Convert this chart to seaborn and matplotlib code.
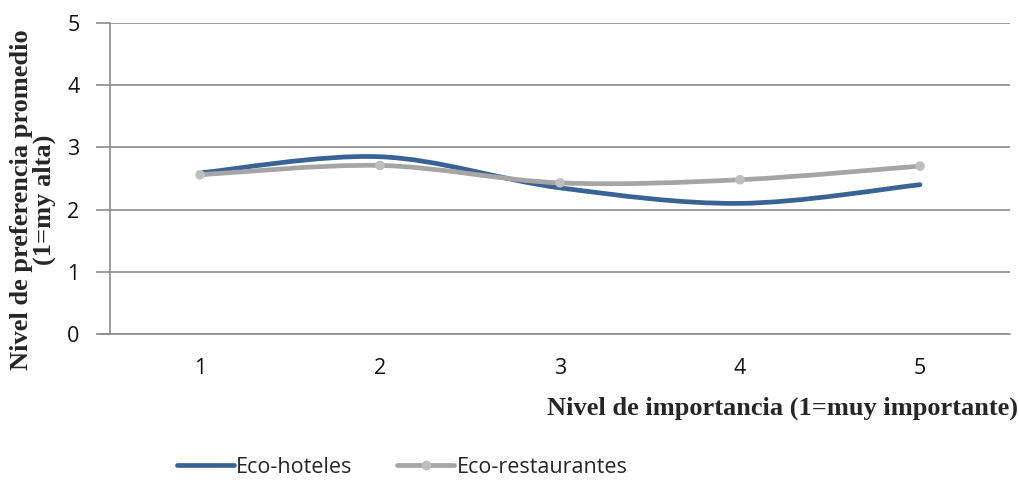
import numpy as np
import pandas as pd
import seaborn as sns
import matplotlib.pyplot as plt
from matplotlib.path import Path
from matplotlib.patches import PathPatch
from matplotlib.lines import Line2D

# data
niveles = [1, 2, 3, 4, 5]
eco_hoteles = [2.59, 2.85, 2.35, 2.10, 2.40]
eco_restaurantes = [2.56, 2.71, 2.43, 2.48, 2.70]

azul = '#386394'
gris = '#A5A5A5'
gris_marker = '#BEBEBE'


def smooth_path(xs, ys, t=1 / 6):
    # Excel-style smoothed line: cubic bezier through each point (Catmull-Rom)
    pts = np.column_stack([xs, ys]).astype(float)
    verts = [pts[0]]
    codes = [Path.MOVETO]
    n = len(pts)
    for i in range(n - 1):
        p0 = pts[i - 1] if i > 0 else pts[i]
        p1 = pts[i]
        p2 = pts[i + 1]
        p3 = pts[i + 2] if i + 2 < n else pts[i + 1]
        c1 = p1 + (p2 - p0) * t
        c2 = p2 - (p3 - p1) * t
        verts += [c1, c2, p2]
        codes += [Path.CURVE4] * 3
    return Path(verts, codes)


df = pd.DataFrame({'nivel': niveles * 2,
                   'valor': eco_hoteles + eco_restaurantes,
                   'serie': ['Eco-hoteles'] * 5 + ['Eco-restaurantes'] * 5})

sns.set_style('white')
plt.rcParams['font.family'] = ['Open Sans', 'DejaVu Sans']

fig = plt.figure(figsize=(10.2, 4.86), dpi=100)
ax = fig.add_axes([110 / 1020, 1 - 334 / 486, 900 / 1020, 311 / 486])

ax.add_patch(PathPatch(smooth_path(niveles, eco_hoteles), facecolor='none',
                       edgecolor=azul, lw=3.4, capstyle='round', zorder=3))
ax.add_patch(PathPatch(smooth_path(niveles, eco_restaurantes), facecolor='none',
                       edgecolor=gris, lw=3.4, capstyle='round', zorder=4))
sns.scatterplot(data=df[df['serie'] == 'Eco-restaurantes'], x='nivel', y='valor',
                color=gris_marker, s=48, edgecolor='none', zorder=5, ax=ax,
                legend=False)

ax.set_xlim(0.5, 5.5)
ax.set_ylim(0, 5)
ax.set_xticks(niveles)
ax.set_yticks([0, 1, 2, 3, 4, 5])
ax.yaxis.grid(True, color='#8C8C8C', lw=1.2)
ax.set_axisbelow(True)
for s in ['top', 'right', 'bottom']:
    ax.spines[s].set_visible(False)
ax.spines['left'].set_color('#8C8C8C')
ax.spines['left'].set_linewidth(1.2)
ax.tick_params(axis='y', length=10, width=1.2, color='#8C8C8C', pad=12,
               labelsize=15.5, labelcolor='#111111', left=True)
ax.tick_params(axis='x', length=0, pad=17, labelsize=15.5, labelcolor='#111111')
ax.set_xlabel('')
ax.set_ylabel('')

# bottom line extends a bit left like the y ticks
ax.plot([0.5 - 10 / 180, 5.5], [0, 0], color='#8C8C8C', lw=1.2, clip_on=False, zorder=1)

fig.text(33 / 1020, 1 - 200 / 486, 'Nivel de preferencia promedio\n(1=my alta)',
         rotation=90, ha='center', va='center', fontsize=19, fontweight='bold',
         family='Liberation Serif', linespacing=1.02)
fig.text(1018 / 1020, 1 - 408 / 486, 'Nivel de importancia (1=muy importante)',
         ha='right', va='center', fontsize=19, fontweight='bold',
         family='Liberation Serif')

handles = [Line2D([], [], color=azul, lw=3.4),
           Line2D([], [], color=gris, lw=3.4, marker='o', markersize=6,
                  markerfacecolor=gris_marker, markeredgecolor=gris_marker)]
fig.legend(handles, ['Eco-hoteles', 'Eco-restaurantes'], loc='center',
           bbox_to_anchor=(402 / 1020, 1 - 467 / 486), ncol=2, frameon=False,
           fontsize=15.5, handlelength=2.65, handletextpad=0.1, columnspacing=2.1)

plt.savefig('out.png', dpi=100)
